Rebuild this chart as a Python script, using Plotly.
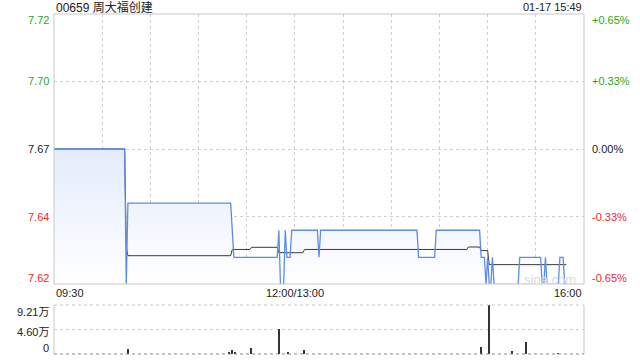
import plotly.graph_objects as go

# ---------------- data ----------------
stock_title = "00659 周大福创建"
stamp = "01-17 15:49"
prev_close = 7.67

# trading-minute index since 09:30 (09:30-12:00, 13:00-16:00 -> 330 minutes)
price_t = [0, 44, 45, 46, 110, 111, 112, 139, 140, 141, 143, 144, 145, 147, 148,
           164, 165, 166, 226, 227, 237, 238, 265, 266, 268, 269, 270, 271, 272,
           273, 274, 289, 290, 303, 304, 305, 306, 307, 314, 315, 317, 318, 319]
price_v = [7.67, 7.67, 7.62, 7.65, 7.65, 7.64, 7.63, 7.63, 7.64, 7.62, 7.62, 7.64, 7.63, 7.63, 7.64,
           7.64, 7.63, 7.64, 7.64, 7.63, 7.63, 7.64, 7.64, 7.63, 7.63, 7.62, 7.63, 7.62, 7.62,
           7.63, 7.62, 7.62, 7.63, 7.63, 7.62, 7.62, 7.63, 7.62, 7.62, 7.63, 7.63, 7.62, 7.62]

avg_t = [0, 44, 45, 46, 110, 111, 122, 123, 139, 140, 155, 156, 257, 258, 265, 266, 270, 271, 319]
avg_v = [7.67, 7.67, 7.6336, 7.6306, 7.6306, 7.6329, 7.6329, 7.6337, 7.6337, 7.6317,
         7.6317, 7.6329, 7.6329, 7.6338, 7.6338, 7.6325, 7.6325, 7.6273, 7.6273]

vol_t = [46, 109, 111, 113, 123, 140, 146, 156, 266, 271, 285, 294, 314]
vol_v = [8800, 2000, 6900, 4400, 11300, 47000, 3800, 7500, 13800, 92100, 6300, 23200, 1500]

left_ticks = ["7.72", "7.70", "7.67", "7.64", "7.62"]
right_ticks = ["+0.65%", "+0.33%", "0.00%", "-0.33%", "-0.65%"]
tick_pct = [0.0065, 0.00325, 0.0, -0.00325, -0.0065]
vol_ticks = ["9.21万", "4.60万", "0"]
x_ticks = ["09:30", "12:00/13:00", "16:00"]
x_tick_pos = [0, 150, 330]

# ---------------- style ----------------
FONT = "Arial, 'Liberation Sans', 'Noto Sans CJK SC', sans-serif"
GREEN = "#1ea81e"
RED = "#f02828"
DARK = "#222222"
GRID = "#cfcfcf"
BORDER = "#c8c8c8"
BLUE = "#5b8de8"

W, H = 640, 360
XL, XR = 54, 584
PT, PB = 14, 284
VT, VB = 305, 354
TITLE_Y = 7
XLAB_Y = 293

ylo = prev_close * (1 + tick_pct[-1])
yhi = prev_close * (1 + tick_pct[0])
vmax = max(vol_v)

fig = go.Figure()

# gradient area under the price line
fig.add_trace(go.Scatter(
    x=price_t, y=price_v, mode="lines",
    line=dict(color="rgba(0,0,0,0)", width=0),
    fill="tozeroy",
    fillgradient=dict(type="vertical",
                      colorscale=[[0, "rgba(255,255,255,1)"], [1, "rgba(227,235,251,1)"]],
                      start=min(price_v), stop=max(price_v)),
    xaxis="x", yaxis="y", hoverinfo="skip", showlegend=False))

# average price line
fig.add_trace(go.Scatter(
    x=avg_t, y=avg_v, mode="lines",
    line=dict(color="#3a3a3a", width=1),
    xaxis="x", yaxis="y", hoverinfo="skip", showlegend=False))

# price line
fig.add_trace(go.Scatter(
    x=price_t, y=price_v, mode="lines",
    line=dict(color=BLUE, width=1.3),
    xaxis="x", yaxis="y", hoverinfo="skip", showlegend=False))

fig.add_trace(go.Bar(
    x=vol_t, y=vol_v, width=0.7,
    marker=dict(color="#333333", line=dict(width=0)),
    xaxis="x2", yaxis="y2", hoverinfo="skip", showlegend=False))

grid_vals = [prev_close * (1 + p) for p in tick_pct[1:-1]]

fig.update_layout(
    width=W, height=H, autosize=False,
    margin=dict(l=0, r=0, t=0, b=0),
    paper_bgcolor="white", plot_bgcolor="white",
    font=dict(family=FONT, size=11, color=DARK),
    bargap=0,
    xaxis=dict(domain=[XL / W, XR / W], range=[0, 330], anchor="y",
               showgrid=True, tick0=0, dtick=30, gridcolor=GRID, griddash="dot", gridwidth=1,
               showticklabels=False, zeroline=False, showline=False, ticks=""),
    yaxis=dict(domain=[1 - PB / H, 1 - PT / H], range=[ylo, yhi], anchor="x",
               tickvals=grid_vals, showgrid=True, gridcolor=GRID, griddash="dot",
               showticklabels=False, zeroline=False, showline=False, ticks=""),
    xaxis2=dict(domain=[XL / W, XR / W], range=[0, 330], anchor="y2",
                showgrid=False, showticklabels=False, zeroline=False, showline=False, ticks=""),
    yaxis2=dict(domain=[1 - VB / H, 1 - VT / H], range=[0, vmax], anchor="x2",
                tickvals=[vmax / 2], showgrid=True, gridcolor=GRID, griddash="dot",
                showticklabels=False, zeroline=False, showline=False, ticks=""),
)

shapes = [
    dict(type="rect", xref="x domain", yref="y domain", x0=0, x1=1, y0=0, y1=1,
         line=dict(color=BORDER, width=1), layer="above"),
    dict(type="line", xref="x2 domain", yref="y2 domain", x0=0, x1=0, y0=0, y1=1,
         line=dict(color=BORDER, width=1)),
    dict(type="line", xref="x2 domain", yref="y2 domain", x0=1, x1=1, y0=0, y1=1,
         line=dict(color=BORDER, width=1)),
    dict(type="line", xref="x2 domain", yref="y2 domain", x0=0, x1=1, y0=1, y1=1,
         line=dict(color=BORDER, width=1, dash="dot")),
    dict(type="line", xref="x2 domain", yref="y2 domain", x0=0, x1=1, y0=0, y1=0,
         line=dict(color="#888888", width=1, dash="dot")),
]
fig.update_layout(shapes=shapes)

ann = []
ann.append(dict(text=stock_title, xref="paper", yref="paper", x=XL / W, y=1 - TITLE_Y / H,
                xanchor="left", yanchor="middle", showarrow=False,
                font=dict(size=12, color=DARK)))
ann.append(dict(text=stamp, xref="paper", yref="paper", x=XR / W, y=1 - TITLE_Y / H,
                xanchor="right", yanchor="middle", showarrow=False,
                font=dict(size=11, color=DARK)))

n = len(tick_pct)
for i, (lt, rt, p) in enumerate(zip(left_ticks, right_ticks, tick_pct)):
    yv = prev_close * (1 + p)
    col = GREEN if p > 0 else (RED if p < 0 else DARK)
    ys = -6 if i == 0 else (6 if i == n - 1 else 0)
    ann.append(dict(text=lt, xref="paper", yref="y", x=(XL - 3) / W, y=yv, yshift=ys,
                    xanchor="right", yanchor="middle", showarrow=False,
                    font=dict(size=11, color=col)))
    ann.append(dict(text=rt, xref="paper", yref="y", x=(XR + 6) / W, y=yv, yshift=ys,
                    xanchor="left", yanchor="middle", showarrow=False,
                    font=dict(size=11, color=col)))

anchors = ["left", "center", "right"]
for lab, pos, anc in zip(x_ticks, x_tick_pos, anchors):
    ann.append(dict(text=lab, xref="x", yref="paper", x=pos, y=1 - XLAB_Y / H,
                    xanchor=anc, yanchor="middle", showarrow=False,
                    font=dict(size=11, color=DARK)))

vol_pos = [vmax, vmax / 2, 0]
vol_shift = [-7, -2, 6]
for lab, pos, sh in zip(vol_ticks, vol_pos, vol_shift):
    ann.append(dict(text=lab, xref="paper", yref="y2", x=(XL - 3) / W, y=pos, yshift=sh,
                    xanchor="right", yanchor="middle", showarrow=False,
                    font=dict(size=11, color=DARK)))

ann.append(dict(text="sina.com", xref="x", yref="y", x=326, y=ylo, yshift=5,
                xanchor="right", yanchor="middle", showarrow=False,
                font=dict(size=13, color="#dcdcdc")))

fig.update_layout(annotations=ann)

fig.write_html("out.html", config={"displayModeBar": False},
               post_script="document.body.style.margin='0';")
